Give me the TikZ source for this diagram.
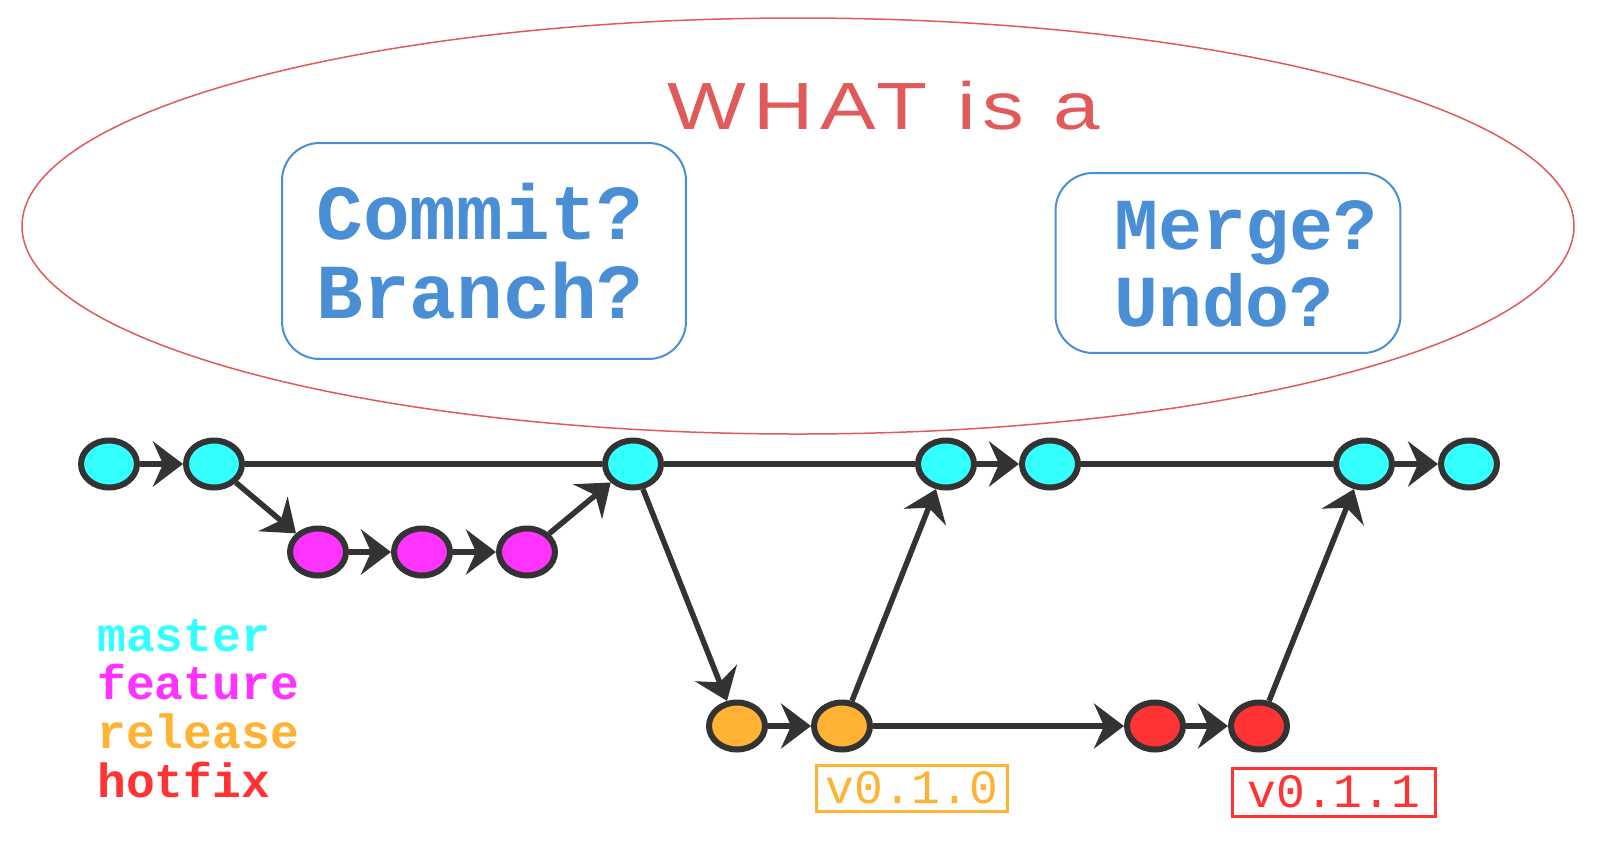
\documentclass[tikz,border=0pt]{standalone}
\usepackage{fontspec}
\setmainfont{Liberation Sans}
\setmonofont{Liberation Mono}
\usepackage{graphicx}
\definecolor{gitcyan}{HTML}{33FFFF}
\definecolor{gitmagenta}{HTML}{FF33FF}
\definecolor{gitorange}{HTML}{FFB233}
\definecolor{gitred}{HTML}{FF3333}
\definecolor{gitdark}{HTML}{333333}
\definecolor{qblue}{HTML}{4A8FD6}
\definecolor{titlered}{HTML}{E05A5A}
\usetikzlibrary{arrows.meta,positioning,shapes.geometric}

\begin{document}
\begin{tikzpicture}[x=0.02cm,y=-0.02cm,
  commit/.style={draw=gitdark,ellipse,line width=0.12cm,minimum width=1.12cm,minimum height=0.94cm,inner sep=0pt},
  flow/.style={gitdark,line width=0.11cm,-{Stealth[length=0.6cm,width=0.9cm,inset=0.2cm]}},
  link/.style={gitdark,line width=0.11cm},
  qbox/.style={draw=qblue,line width=0.04cm,rounded corners=0.75cm,inner sep=0pt},
  qtext/.style={text=qblue,align=left,inner sep=0pt},
  legend/.style={anchor=base west,inner sep=0pt,font=\fontsize{27.3}{28}\selectfont\ttfamily\bfseries},
  tag/.style={draw,line width=0.06cm,inner sep=0pt,font=\fontsize{27.3}{28}\selectfont\ttfamily}]
  \useasboundingbox (0,0) rectangle (1600,840);

  % question cloud
  \draw[titlered,line width=0.03cm] (798,226) ellipse [x radius=776, y radius=208];
  \node[text=titlered,font=\fontsize{38}{40}\selectfont\addfontfeature{LetterSpace=8}] (title) at (884,106) {\scalebox{1.25}[1]{WHAT is a}};
  \node[qbox,minimum width=8.08cm,minimum height=4.32cm] (lbox) at (484,251) {};
  \node[qtext,font=\fontsize{44.3}{45}\selectfont\ttfamily\bfseries] (lq) at (480,251) {Commit?\\Branch?};
  \node[qbox,minimum width=6.9cm,minimum height=3.6cm] (rbox) at (1228,263) {};
  \node[qtext,font=\fontsize{41.7}{43.5}\selectfont\ttfamily\bfseries] (rq) at (1246,264) {Merge?\\Undo?};

  % commits
  \node[commit,fill=gitcyan] (m1) at (109,464) {};
  \node[commit,fill=gitcyan] (m2) at (214,464) {};
  \node[commit,fill=gitcyan] (m3) at (633,464) {};
  \node[commit,fill=gitcyan] (m4) at (946,464) {};
  \node[commit,fill=gitcyan] (m5) at (1050,464) {};
  \node[commit,fill=gitcyan] (m6) at (1364,464) {};
  \node[commit,fill=gitcyan] (m7) at (1469,464) {};
  \node[commit,fill=gitmagenta] (f1) at (318,552) {};
  \node[commit,fill=gitmagenta] (f2) at (422,552) {};
  \node[commit,fill=gitmagenta] (f3) at (527,552) {};
  \node[commit,fill=gitorange] (r1) at (737,726) {};
  \node[commit,fill=gitorange] (r2) at (842,726) {};
  \node[commit,fill=gitred] (h1) at (1155,726) {};
  \node[commit,fill=gitred] (h2) at (1259,726) {};

  % history
  \draw[flow] (m1) -- (m2);
  \draw[link] (m2) -- (m3);
  \draw[flow] (m2) -- (f1);
  \draw[flow] (f1) -- (f2);
  \draw[flow] (f2) -- (f3);
  \draw[flow] (f3) -- (m3);
  \draw[link] (m3) -- (m4);
  \draw[flow] (m4) -- (m5);
  \draw[link] (m5) -- (m6);
  \draw[flow] (m6) -- (m7);
  \draw[flow] (m3) -- (r1);
  \draw[flow] (r1) -- (r2);
  \draw[flow] (r2) -- (m4);
  \draw[flow] (r2) -- (h1);
  \draw[flow] (h1) -- (h2);
  \draw[flow] (h2) -- (m6);

  % tags
  \node[tag,draw=gitorange,text=gitorange,minimum width=3.82cm,minimum height=0.92cm] (v010) at (912,788) {v0.1.0};
  \node[tag,draw=gitred,text=gitred,minimum width=4.06cm,minimum height=0.96cm] (v011) at (1334,792) {v0.1.1};

  % legend
  \node[legend,text=gitcyan] (lmaster) at (97,651) {master};
  \node[legend,text=gitmagenta] (lfeature) at (97,699) {feature};
  \node[legend,text=gitorange] (lrelease) at (97,748) {release};
  \node[legend,text=gitred] (lhotfix) at (97,797) {hotfix};
\end{tikzpicture}
\end{document}
